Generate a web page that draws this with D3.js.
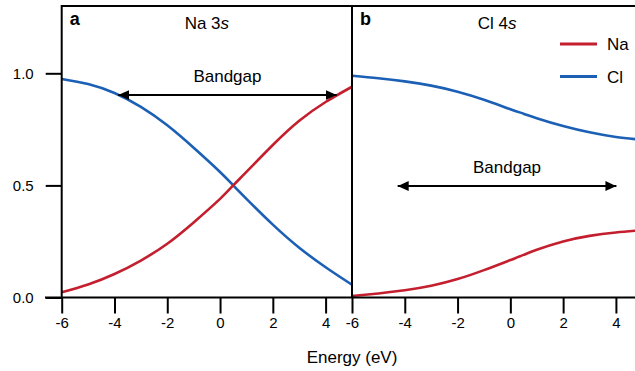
<!DOCTYPE html>
<html>
<head>
<meta charset="utf-8">
<script src="https://cdn.jsdelivr.net/npm/d3@7"></script>
<style>
	body { margin: 0; background: #fff; }
	svg { display: block; font-family: "Liberation Sans", Arial, sans-serif; }
</style>
</head>
<body>
<div id="chart"></div>
<script>
var energy = [-6, -5, -4, -3, -2, -1, 0, 0.5, 1, 2, 3, 4, 5];

// panel a: Na 3s
var a_na = [0.023, 0.058, 0.105, 0.165, 0.24, 0.335, 0.44, 0.5, 0.56, 0.68, 0.788, 0.872, 0.94];
var a_cl = [0.975, 0.952, 0.912, 0.85, 0.768, 0.668, 0.56, 0.5, 0.44, 0.325, 0.222, 0.135, 0.057];

// panel b: Cl 4s
var b_na = [0.007, 0.018, 0.032, 0.052, 0.082, 0.122, 0.167, 0.19, 0.213, 0.25, 0.275, 0.29, 0.30];
var b_cl = [0.989, 0.978, 0.964, 0.945, 0.918, 0.882, 0.84, 0.82, 0.80, 0.765, 0.737, 0.716, 0.703];

// bandgap arrows [from, to, level]
var a_gap = [-3.86, 4.42, 0.903];
var b_gap = [-4.27, 4.02, 0.497];

var x_ticks = [-6, -4, -2, 0, 2, 4];
var y_ticks = [0, 0.5, 1.0];

var panels = [
	{ tag: "a", title: "Na ", orb: "s", n: "3", na: a_na, cl: a_cl, gap: a_gap },
	{ tag: "b", title: "Cl ", orb: "s", n: "4", na: b_na, cl: b_cl, gap: b_gap }
];

var red = "#c41f2f", blue = "#1c60b6";

var W = 635, H = 371;
var left = 61.7, bottom = 297.5, panel_w = 290.3;

var svg = d3.select("#chart").append("svg")
	.attr("width", W)
	.attr("height", H);

svg.append("defs").append("marker")
	.attr("id", "head")
	.attr("viewBox", "0 0 10 10")
	.attr("refX", 10).attr("refY", 5)
	.attr("markerUnits", "userSpaceOnUse")
	.attr("markerWidth", 11).attr("markerHeight", 11)
	.attr("orient", "auto-start-reverse")
	.append("path")
	.attr("d", "M0,0.5 L10,5 L0,9.5 Z")
	.attr("fill", "#000");

var y = d3.scaleLinear().domain([0, 1.3]).range([bottom, bottom - 224.2 * 1.3]);

panels.forEach(function(p, i) {
	var x0 = left + i * panel_w;
	var x = d3.scaleLinear().domain([-6, 5]).range([x0, x0 + panel_w]);
	var g = svg.append("g");

	var line = d3.line()
		.x(function(d, k) { return x(energy[k]); })
		.y(function(d) { return y(d); })
		.curve(d3.curveNatural);

	g.append("path").datum(p.cl)
		.attr("d", line).attr("fill", "none")
		.attr("stroke", blue).attr("stroke-width", 2.6);
	g.append("path").datum(p.na)
		.attr("d", line).attr("fill", "none")
		.attr("stroke", red).attr("stroke-width", 2.6);

	// frame
	g.append("path")
		.attr("d", "M" + x0 + "," + bottom + "V" + y(1.3) + "H" + (x0 + panel_w) + "V" + bottom)
		.attr("fill", "none").attr("stroke", "#000").attr("stroke-width", 2);

	// x axis ticks
	var xAxis = d3.axisBottom(x).tickValues(x_ticks).tickSize(16).tickPadding(4)
		.tickFormat(function(d) { return String(d); });
	var ax = g.append("g")
		.attr("transform", "translate(0," + bottom + ")")
		.call(xAxis);
	ax.select(".domain").remove();
	ax.selectAll("line").attr("stroke-width", 2);
	ax.selectAll("text").attr("font-size", 15).attr("font-family", "Liberation Sans, Arial, sans-serif");

	// panel label and title
	g.append("text").attr("x", x0 + 8).attr("y", 25)
		.attr("font-size", 18).attr("font-weight", "bold").text(p.tag);
	var t = g.append("text").attr("x", x(-0.5)).attr("y", 29)
		.attr("text-anchor", "middle").attr("font-size", 17);
	t.append("tspan").text(p.title + p.n);
	t.append("tspan").attr("font-style", "italic").text(p.orb);

	// bandgap arrow
	g.append("line")
		.attr("x1", x(p.gap[0])).attr("x2", x(p.gap[1]))
		.attr("y1", y(p.gap[2])).attr("y2", y(p.gap[2]))
		.attr("stroke", "#000").attr("stroke-width", 2)
		.attr("marker-start", "url(#head)").attr("marker-end", "url(#head)");
	g.append("text")
		.attr("x", x((p.gap[0] + p.gap[1]) / 2))
		.attr("y", y(p.gap[2]) - 13.5)
		.attr("text-anchor", "middle").attr("font-size", 17).text("Bandgap");
});

// baseline across both panels
svg.append("line")
	.attr("x1", 45).attr("x2", W)
	.attr("y1", bottom).attr("y2", bottom)
	.attr("stroke", "#000").attr("stroke-width", 2);

// y axis
var yAxis = d3.axisLeft(y).tickValues(y_ticks).tickSize(16).tickPadding(12)
	.tickFormat(d3.format(".1f"));
var ay = svg.append("g")
	.attr("transform", "translate(" + left + ",0)")
	.call(yAxis);
ay.select(".domain").remove();
ay.selectAll("line").attr("stroke-width", 2);
ay.selectAll("text").attr("font-size", 15).attr("font-family", "Liberation Sans, Arial, sans-serif");

// legend
var legend = [{ name: "Na", color: red, y: 44 }, { name: "Cl", color: blue, y: 76.5 }];
legend.forEach(function(l) {
	svg.append("line").attr("x1", 560).attr("x2", 597)
		.attr("y1", l.y).attr("y2", l.y)
		.attr("stroke", l.color).attr("stroke-width", 3);
	svg.append("text").attr("x", 607).attr("y", l.y + 6)
		.attr("font-size", 17).text(l.name);
});

svg.append("text").attr("x", left + panel_w).attr("y", 363)
	.attr("text-anchor", "middle").attr("font-size", 17).text("Energy (eV)");
</script>
</body>
</html>
